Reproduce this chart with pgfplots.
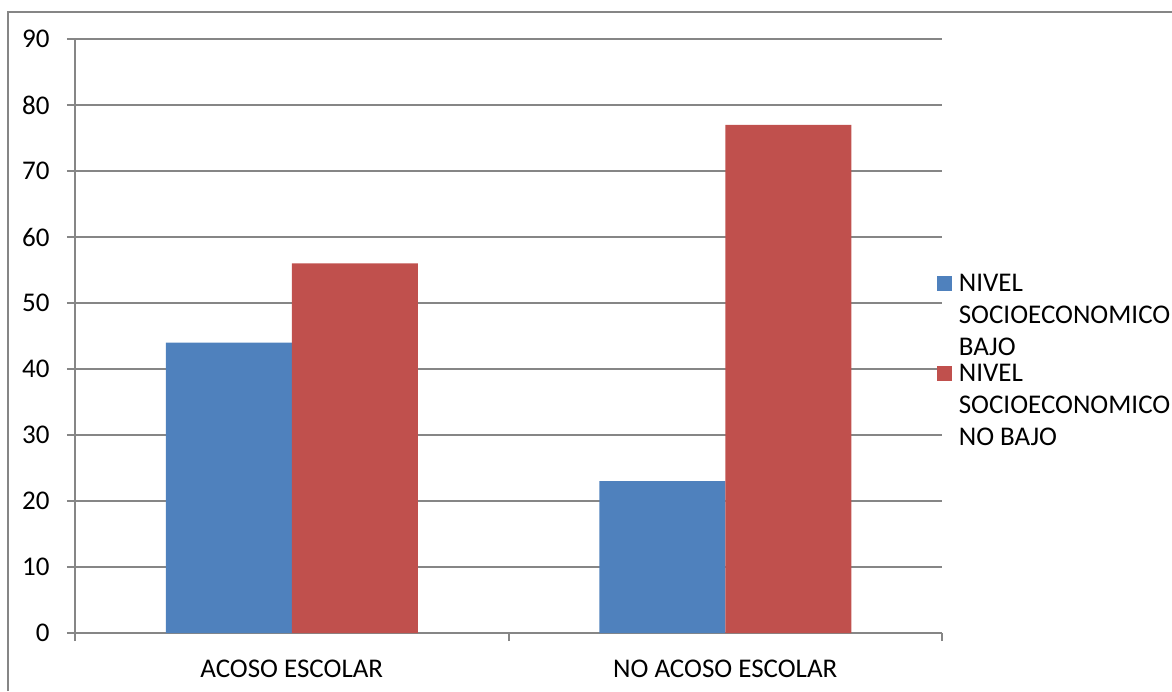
\documentclass[border=0pt]{standalone}
\usepackage{pgfplots}
\pgfplotsset{compat=1.18}
\usepackage{fontspec}
\setmainfont{Carlito}
\definecolor{cblue}{RGB}{79,129,189}
\definecolor{cred}{RGB}{192,80,77}
\definecolor{cgrid}{RGB}{134,134,134}
\begin{document}
\fontsize{13.5}{16}\selectfont
\begin{tikzpicture}
\useasboundingbox (0,0) rectangle (586pt,345.5pt);
\draw[cgrid, line width=1pt] (4pt,0pt) -- (4pt,339.5pt) -- (586pt,339.5pt);
\begin{axis}[
  at={(37.5pt,29pt)}, anchor=south west,
  scale only axis, width=433.5pt, height=297pt,
  ybar=0pt, bar width=63pt,
  xmin=-0.5, xmax=1.5, ymin=0, ymax=90,
  ytick={0,10,...,90},
  yticklabels={0,10,20,30,40,50,60,70,80,90},
  xtick={-0.5,0.5,1.5}, xticklabels={},
  extra x ticks={0,1},
  extra x tick labels={ACOSO ESCOLAR, NO ACOSO ESCOLAR},
  extra x tick style={major tick length=0pt, xticklabel style={anchor=base, yshift=-22pt, inner sep=0pt}},
  axis x line*=bottom, axis y line*=left,
  axis line style={cgrid, line width=1pt, -},
  tick align=outside, major tick length=4pt,
  tick style={cgrid, line width=1pt},
  ymajorgrids, grid style={cgrid, line width=1pt},
  tick label style={font=\fontsize{13.5}{16}\selectfont},
  yticklabel style={anchor=east, inner sep=0pt, xshift=-8.5pt, font=\fontsize{13.5}{16}\selectfont},
  legend style={draw=none, fill=none, at={(0.994,0.612)}, anchor=north west,
    inner sep=0pt, outer sep=0pt, row sep=0pt, column sep=3.5pt,
    nodes={inner sep=0pt, anchor=base west, text height=11pt, text depth=34pt, font=\fontsize{13.5}{16}\selectfont}},
  legend cell align=left,
  legend image code/.code={\fill[#1] (0pt,0pt) rectangle (7.5pt,7.5pt);},
]
\addplot[fill=cblue, draw=none] coordinates {(0,44) (1,23)};
\addplot[fill=cred, draw=none] coordinates {(0,56) (1,77)};
\legend{{\begin{tabular}[t]{@{}l@{}}NIVEL\\SOCIOECONOMICO\\BAJO\end{tabular}},{\begin{tabular}[t]{@{}l@{}}NIVEL\\SOCIOECONOMICO\\NO BAJO\end{tabular}}}
\end{axis}
\end{tikzpicture}
\end{document}
